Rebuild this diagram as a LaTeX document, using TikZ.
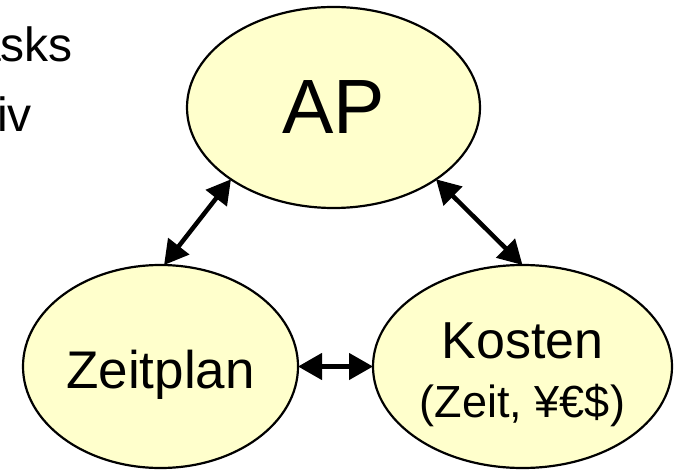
\documentclass[tikz,border=0pt]{standalone}
\usepackage{fontspec}
\setmainfont{Liberation Sans}
\usetikzlibrary{shapes.geometric,arrows.meta}
\tikzset{
  topic/.style={ellipse, draw=black, line width=2.2pt, fill=topicfill,
    inner sep=0pt, outer sep=0pt, align=center},
  link/.style={line width=4.5pt,
    {Triangle[length=24pt,width=26pt]}-{Triangle[length=24pt,width=26pt]}},
  sidetext/.style={anchor=base east, inner sep=0pt, font=\fontsize{48}{52}\selectfont}
}
\definecolor{topicfill}{HTML}{FFFFCC}
\begin{document}
\begin{tikzpicture}[x=1pt,y=-1pt]
  \useasboundingbox (0,0) rectangle (676,470);
  % partially visible bullet text at the left
  \node[sidetext] (t1) at (73,62) {asks};
  \node[sidetext] (t2) at (32,132) {iv};
  % the three topics
  \node[topic, minimum width=293pt, minimum height=201pt,
        font=\fontsize{77}{80}\selectfont] (ap) at (333.5,107.5) {AP};
  \node[topic, minimum width=275pt, minimum height=203pt,
        font=\fontsize{53}{56}\selectfont] (zeit) at (160.5,366.5)
        {\rule{0pt}{54pt}Zeitplan};
  \node[topic, minimum width=299pt, minimum height=203pt,
        font=\fontsize{52}{59}\selectfont] (kosten) at (522.5,366.5)
        {\rule{0pt}{52pt}Kosten\\{\fontsize{45}{59}\selectfont (Zeit, ¥€\$)}};
  % relations
  \draw[link] (ap.215) -- (zeit.88);
  \draw[link] (ap.325) -- (kosten.north);
  \draw[link] (zeit.east) -- (kosten.west);
\end{tikzpicture}
\end{document}
